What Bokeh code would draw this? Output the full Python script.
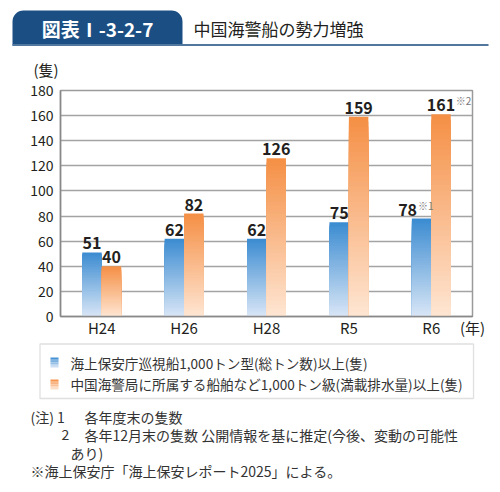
from bokeh.plotting import figure
from bokeh.layouts import column
from bokeh.models import ColumnDataSource, FixedTicker, Label, BoxAnnotation, Range1d
from bokeh.transform import dodge
from bokeh.core.properties import value
from bokeh.embed import file_html
from bokeh.resources import INLINE

# data
years = ["H24", "H26", "H28", "R5", "R6"]
jcg_ships = [51, 62, 62, 75, 78]        # 海上保安庁巡視船 1,000トン型以上
ccg_ships = [40, 82, 126, 159, 161]     # 中国海警局 1,000トン級以上
jcg_notes = ["", "", "", "", "※1"]
ccg_notes = ["", "", "", "", "※2"]
y_ticks = [0, 20, 40, 60, 80, 100, 120, 140, 160, 180]

FONT = "Noto Sans CJK JP"
TXT = "#231f20"
NOTE_TXT = "#333333"

BLUE_TOP, BLUE_BOT = "#3a8bd1", "#d9e6f6"
ORNG_TOP, ORNG_BOT = "#f58f45", "#fee6d3"


def blend(c0, c1, t):
    a = [int(c0[i:i + 2], 16) for i in (1, 3, 5)]
    b = [int(c1[i:i + 2], 16) for i in (1, 3, 5)]
    return "#%02x%02x%02x" % tuple(int(round(a[i] + (b[i] - a[i]) * t)) for i in range(3))


def no_align(f):
    # keep the column from lining the frames of the three figures up
    if "frame_align" in f.properties():
        f.frame_align = False


def blank_fig(top, bottom):
    # a figure whose frame is the whole canvas, y measured downwards as -page_y
    f = figure(width=500, height=bottom - top, x_range=Range1d(0, 500),
               y_range=Range1d(-bottom, -top), x_axis_type=None, y_axis_type=None,
               output_backend="svg", toolbar_location=None, min_border=0,
               min_border_left=0, min_border_right=0,
               min_border_top=0, min_border_bottom=0)
    f.outline_line_color = None
    f.background_fill_color = "white"
    f.border_fill_color = "white"
    no_align(f)
    return f


def text(f, t, x, y, size="14px", color=NOTE_TXT, align="left", bold=False):
    f.add_layout(Label(x=x, y=-y, text=t, text_font=FONT, text_font_size=size,
                       text_color=color, text_align=align, text_baseline="middle",
                       text_font_style="bold" if bold else "normal"))


def box(f, l, r, t, b, **kw):
    f.add_layout(BoxAnnotation(left=l, right=r, top=-t, bottom=-b, **kw))


# ---- header ----
head = blank_fig(0, 80)
box(head, 12, 182, 10, 45, fill_color="#1b4f84", fill_alpha=1, line_color=None,
    border_radius=dict(top_left=11, top_right=11, bottom_right=0, bottom_left=0))
box(head, 12, 488, 43.5, 45.5, fill_color="#52779f", fill_alpha=1, line_color=None)
text(head, "図表Ⅰ-3-2-7", 97, 28, size="19px", color="white", align="center", bold=True)
text(head, "中国海警船の勢力増強", 193, 28, size="17px", color=TXT)
text(head, "(隻)", 33, 69, size="15px", color=TXT)

# ---- chart ----
p = figure(width=500, height=262, x_range=years, y_range=(0, 180),
           output_backend="svg", toolbar_location=None,
           min_border_left=60, min_border_right=28,
           min_border_top=10, min_border_bottom=26)
p.background_fill_color = "white"
p.border_fill_color = "white"
no_align(p)

OFF, BW = 0.118, 0.236

# each bar is painted as nested rectangles from the full bar down to a thin
# sliver at the base, so it fades from the top colour to the bottom colour
N = 40
def fade(vals, top_col, bot_col):
    xs, tops, cols = [], [], []
    for cat, v in zip(years, vals):
        for k in range(N, 0, -1):
            xs.append(cat)
            tops.append(v * k / N)
            cols.append(blend(bot_col, top_col, (k - 0.5) / N))
    return ColumnDataSource(dict(x=xs, top=tops, color=cols))

for vals, off, ctop, cbot in [(jcg_ships, -OFF, BLUE_TOP, BLUE_BOT),
                              (ccg_ships, OFF, ORNG_TOP, ORNG_BOT)]:
    p.vbar(x=dodge("x", off, range=p.x_range), width=BW, bottom=0, top="top",
           source=fade(vals, ctop, cbot), fill_color="color", line_color=None)

# value labels (a label that carries a note is pushed left so the note fits)
for vals, notes, off in [(jcg_ships, jcg_notes, -OFF), (ccg_ships, ccg_notes, OFF)]:
    shift = [-14 if n and off < 0 else 0 for n in notes]
    note_x = [s + len(str(v)) * 4.4 + 1.5 for s, v in zip(shift, vals)]
    src = ColumnDataSource(dict(x=years, y=vals, label=[str(v) for v in vals],
                                note=notes, shift=shift, note_x=note_x))
    p.text(x=dodge("x", off, range=p.x_range), y="y", text="label", source=src,
           x_offset="shift", y_offset=-3, text_align="center", text_baseline="bottom",
           text_font=value(FONT), text_font_style="bold", text_font_size="16px",
           text_color=TXT)
    p.text(x=dodge("x", off, range=p.x_range), y="y", text="note", source=src,
           x_offset="note_x", y_offset=-6, text_align="left", text_baseline="bottom",
           text_font=value(FONT), text_font_size="10px", text_color="#7a7a7a")

p.xgrid.grid_line_color = None
p.ygrid.grid_line_color = "#a3a3a3"
p.ygrid.grid_line_width = 1.5
p.outline_line_color = "#9a9a9a"
p.outline_line_width = 1.5

p.yaxis.ticker = FixedTicker(ticks=y_ticks)
for ax in (p.xaxis, p.yaxis):
    ax.axis_line_color = "#888888"
    ax.axis_line_width = 1.5
    ax.major_tick_line_color = None
    ax.minor_tick_line_color = None
    ax.major_tick_in = 0
    ax.major_tick_out = 0
    ax.major_label_text_font = FONT
    ax.major_label_text_font_size = "15px"
    ax.major_label_text_color = TXT
p.yaxis.major_label_text_font_size = "14px"
p.yaxis.major_label_standoff = 7
p.xaxis.major_label_standoff = 0

# "(年)" sits at the right end of the x axis, level with the tick labels
xax = p.xaxis[0]
xax.axis_label = "(年)"
xax.axis_label_text_font = FONT
xax.axis_label_text_font_size = "15px"
xax.axis_label_text_font_style = "normal"
xax.axis_label_text_color = TXT
xax.axis_label_standoff = -24
if "axis_label_align" in xax.properties():
    xax.axis_label_align = "end"

# ---- legend and notes ----
foot = blank_fig(342, 492)
box(foot, 39.5, 473, 343.5, 398, fill_alpha=0, line_color="#999999", line_width=1.3)
for yc, ctop, cbot in [(362, BLUE_TOP, BLUE_BOT), (384, ORNG_TOP, ORNG_BOT)]:
    for k in range(6):
        box(foot, 50, 58, yc - 5 + k * 10 / 6, yc - 5 + (k + 1) * 10 / 6,
            fill_color=blend(ctop, cbot, (k + 0.5) / 6), fill_alpha=1, line_color=None)
text(foot, "海上保安庁巡視船1,000トン型(総トン数)以上(隻)", 70, 362, size="13.6px")
text(foot, "中国海警局に所属する船舶など1,000トン級(満載排水量)以上(隻)", 70, 383,
     size="13.6px")

text(foot, "(注) 1", 30, 416)
text(foot, "各年度末の隻数", 84, 416)
text(foot, "2", 61, 434)
text(foot, "各年12月末の隻数 公開情報を基に推定(今後、変動の可能性", 84, 434)
text(foot, "あり)", 70, 452)
text(foot, "※海上保安庁「海上保安レポート2025」による。", 30, 470)

layout = column(head, p, foot)
open("out.html", "w").write(file_html(layout, INLINE))
